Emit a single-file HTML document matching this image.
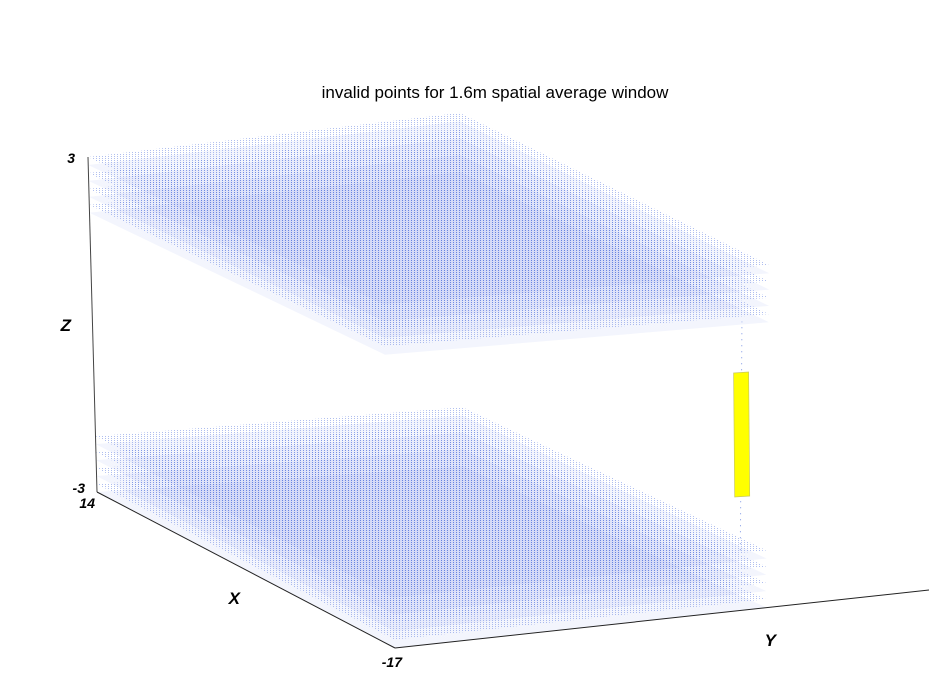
<!DOCTYPE html>
<html><head><meta charset="utf-8">
<style>
html,body{margin:0;padding:0;background:#fff;}
svg{display:block;font-family:"Liberation Sans",sans-serif;}
</style></head>
<body>
<svg id="chart" width="929" height="682" viewBox="0 0 929 682">
<defs>
<pattern id="dots" width="3" height="2" patternUnits="userSpaceOnUse">
<rect x="0" y="0" width="1" height="1" fill="#5f7ee0"/>
</pattern>
</defs>
<text x="495" y="98" text-anchor="middle" font-size="17" fill="#000">invalid points for 1.6m spatial average window</text>
<g id="slabs"></g>
<g id="axes"></g>
</svg>
<script>
// data
const xRange = [14, -17];
const zRange = [-3, 3];
const slabNames = ['top-slab', 'bottom-slab'];
const slabZ = [[2, 3], [-3, -2]];
const slabY = [0, 0.7];
const barX = [-16.5];
const barY = [0.66];
const barZ = [[-1.05, 1.12]];
const stemZ = [[-2, 2]];
const zTickLabels = ['-3', '3'];
const xTickLabels = ['14', '-17'];

// axis frame (screen corners of the data box)
const lo = {A:[97,492], B:[395,648], C:[925,590], D:[620,455]};
const hi = {A:[88,157], B:[383,296], C:[935,252], D:[619,94]};
function lerp(p,q,t){return [p[0]+(q[0]-p[0])*t, p[1]+(q[1]-p[1])*t];}
function proj(x,y,z){
  const u=(xRange[0]-x)/(xRange[0]-xRange[1]);
  const v=y;
  const w=(z-zRange[0])/(zRange[1]-zRange[0]);
  function quad(Q){const p=lerp(Q.A,Q.B,u), q=lerp(Q.D,Q.C,u); return lerp(p,q,v);}
  return lerp(quad(lo),quad(hi),w);
}
const NS='http://www.w3.org/2000/svg';
const slabs=document.getElementById('slabs');
const axes=document.getElementById('axes');
function pts(a){return a.map(p=>p[0].toFixed(1)+','+p[1].toFixed(1)).join(' ');}

slabZ.forEach((zr,i)=>{
  const g=document.createElementNS(NS,'g');
  
  
  const n=8;
  for(let k=0;k<n;k++){
    const z=zr[0]+(zr[1]-zr[0])*k/(n-1);
    const poly=document.createElementNS(NS,'polygon');
    poly.setAttribute('points', pts([proj(xRange[0],slabY[0],z),proj(xRange[1],slabY[0],z),proj(xRange[1],slabY[1],z),proj(xRange[0],slabY[1],z)]));
    poly.setAttribute('fill', k%2? 'url(#dots)':'#7d95e4');
    poly.setAttribute('fill-opacity', k%2? '0.5':'0.09');
    
    
    g.appendChild(poly);
  }
  slabs.appendChild(g);
});

barX.forEach((bx,i)=>{
  const st=stemZ[i];
  const a=proj(bx,barY[i],st[0]), b=proj(bx,barY[i],st[1]);
  const l=document.createElementNS(NS,'line');
  l.setAttribute('x1',a[0]);l.setAttribute('y1',a[1]);l.setAttribute('x2',b[0]);l.setAttribute('y2',b[1]);
  l.setAttribute('stroke','#7d95e4');l.setAttribute('stroke-width','1');l.setAttribute('stroke-dasharray','1 5');
  
  
  slabs.appendChild(l);
  const z=barZ[i];
  const p1=proj(bx,barY[i],z[1]), p2=proj(bx,barY[i],z[0]);
  const bar=document.createElementNS(NS,'polygon');
  bar.setAttribute('points', pts([[p1[0]-8,p1[1]+1],[p1[0]+7,p1[1]],[p2[0]+9,p2[1]],[p2[0]-6,p2[1]+1]]));
  bar.setAttribute('fill','#ffff00');bar.setAttribute('stroke','#c8c860');bar.setAttribute('stroke-width','0.7');
  
  
  slabs.appendChild(bar);
});

function line(p,q,name,c){
  const l=document.createElementNS(NS,'line');
  l.setAttribute('x1',p[0]);l.setAttribute('y1',p[1]);l.setAttribute('x2',q[0]);l.setAttribute('y2',q[1]);
  l.setAttribute('stroke',c||'#222');l.setAttribute('stroke-width','1');
  
  
  axes.appendChild(l);
}
line(proj(xRange[0],0,zRange[0]),proj(xRange[0],0,zRange[1]),'z-axis','#444');
line(proj(xRange[0],0,zRange[0]),proj(xRange[1],0,zRange[0]),'x-axis');
line(proj(xRange[1],0,zRange[0]),[929,590],'y-axis');
function text(x,y,s,name,size,anchor){
  const t=document.createElementNS(NS,'text');
  t.setAttribute('x',x);t.setAttribute('y',y);t.textContent=s;
  t.setAttribute('font-size',size);t.setAttribute('font-style','italic');t.setAttribute('font-weight','bold');
  t.setAttribute('text-anchor',anchor||'end');
  
  
  axes.appendChild(t);
}
const zt0=proj(xRange[0],0,zRange[0]), zt1=proj(xRange[0],0,zRange[1]);
text(zt0[0]-12,zt0[1]+1,zTickLabels[0],'z-tick-min',14);
text(zt1[0]-13,zt1[1]+6,zTickLabels[1],'z-tick-max',14);
text(zt0[0]-2,zt0[1]+16,xTickLabels[0],'x-tick-min',14);
const xb=proj(xRange[1],0,zRange[0]);
text(xb[0]+7,xb[1]+19,xTickLabels[1],'x-tick-max',14);
text(71,331,'Z','z-axis-title',17);
text(240,604,'X','x-axis-title',17);
text(776,646,'Y','y-axis-title',17);
</script>
</body></html>
